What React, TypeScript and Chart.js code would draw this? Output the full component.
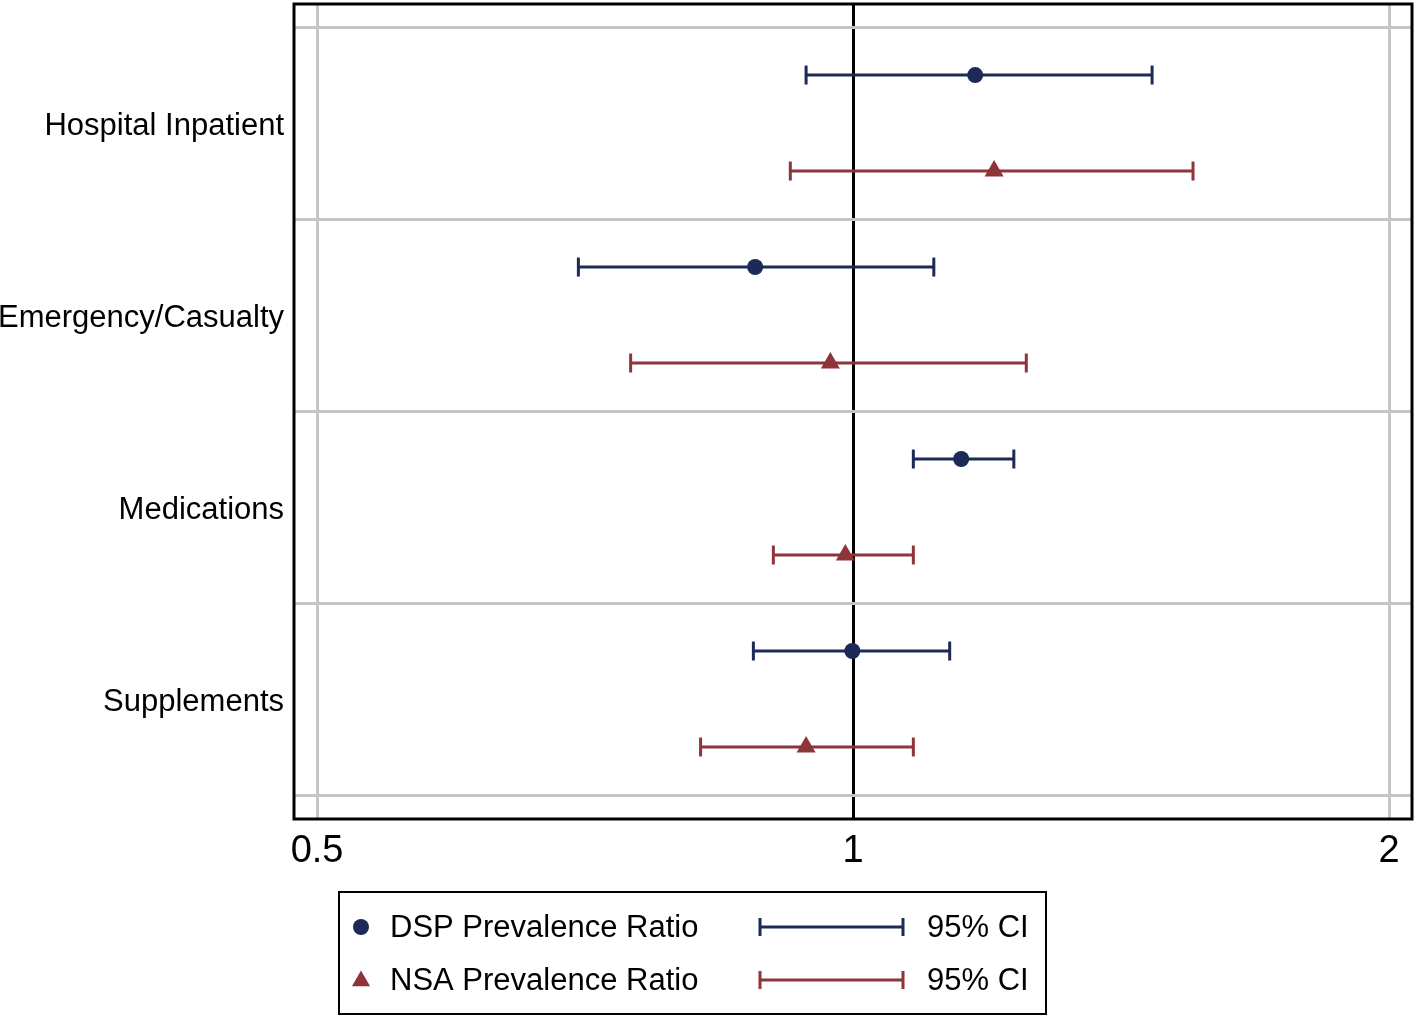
import React, { useEffect, useRef } from "react";
import { Chart, registerables } from "chart.js";

Chart.register(...registerables);

const categories = ["Hospital Inpatient", "Emergency/Casualty", "Medications", "Supplements"];
const dspRatio = [1.171, 0.881, 1.15, 0.999];
const dspLower = [0.941, 0.701, 1.081, 0.879];
const dspUpper = [1.472, 1.11, 1.231, 1.133];
const nsaRatio = [1.2, 0.971, 0.99, 0.941];
const nsaLower = [0.922, 0.75, 0.902, 0.821];
const nsaUpper = [1.552, 1.251, 1.081, 1.081];
const xTicks = [0.5, 1, 2];
const seriesLabels = ["DSP Prevalence Ratio", "NSA Prevalence Ratio"];
const ciLabel = "95% CI";

const NAVY = "#1b2a56";
const RED = "#8e343b";
const GRID = "#c6c6c6";
const FONT = "'Liberation Sans', Arial, sans-serif";

// row positions on the y scale: category i occupies [2i, 2i+2]
const dspY = (i: number) => 2 * i + 0.5;
const nsaY = (i: number) => 2 * i + 1.5;

export default function App() {
  const ref = useRef<HTMLCanvasElement>(null);
  useEffect(() => {
    if (!ref.current) return;
    const ciDatasets: any[] = [];
    categories.forEach((_, i) => {
      ciDatasets.push({
        type: "line",
        data: [
          { x: dspLower[i], y: dspY(i) },
          { x: dspUpper[i], y: dspY(i) },
        ],
        borderColor: NAVY,
        borderWidth: 3,
        pointStyle: "line",
        rotation: 90,
        pointRadius: 9.5,
        pointBorderWidth: 3,
        pointBorderColor: NAVY,
        order: 2,
        clip: false,
      });
      ciDatasets.push({
        type: "line",
        data: [
          { x: nsaLower[i], y: nsaY(i) },
          { x: nsaUpper[i], y: nsaY(i) },
        ],
        borderColor: RED,
        borderWidth: 3,
        pointStyle: "line",
        rotation: 90,
        pointRadius: 9.5,
        pointBorderWidth: 3,
        pointBorderColor: RED,
        order: 2,
        clip: false,
      });
    });

    const framePlugin = {
      id: "frameLegend",
      afterDraw(chart: any) {
        const ctx = chart.ctx;
        const a = chart.chartArea;
        ctx.save();
        ctx.strokeStyle = "#000";
        ctx.lineWidth = 3;
        ctx.strokeRect(a.left, a.top, a.right - a.left, a.bottom - a.top);

        // legend box
        ctx.lineWidth = 2;
        ctx.strokeRect(339, 892, 707, 122);
        const rows = [927, 980];
        const colors = [NAVY, RED];
        ctx.font = `31px ${FONT}`;
        ctx.textBaseline = "middle";
        ctx.textAlign = "left";
        rows.forEach((y, k) => {
          ctx.fillStyle = colors[k];
          ctx.strokeStyle = colors[k];
          if (k === 0) {
            ctx.beginPath();
            ctx.arc(361, y, 8, 0, Math.PI * 2);
            ctx.fill();
          } else {
            const r = 10.5;
            ctx.beginPath();
            ctx.moveTo(361, y - r + 1);
            ctx.lineTo(361 + r * 0.866, y + r / 2 + 1);
            ctx.lineTo(361 - r * 0.866, y + r / 2 + 1);
            ctx.closePath();
            ctx.fill();
          }
          ctx.lineWidth = 3;
          ctx.beginPath();
          ctx.moveTo(760, y);
          ctx.lineTo(903, y);
          ctx.moveTo(760, y - 9);
          ctx.lineTo(760, y + 9);
          ctx.moveTo(903, y - 9);
          ctx.lineTo(903, y + 9);
          ctx.stroke();
          ctx.fillStyle = "#000";
          ctx.fillText(seriesLabels[k], 390, y + 1);
          ctx.fillText(ciLabel, 927, y + 1);
        });
        ctx.restore();
      },
    };

    const chart = new Chart(ref.current, {
      type: "scatter",
      data: {
        datasets: [
          {
            label: seriesLabels[0],
            data: categories.map((_, i) => ({ x: dspRatio[i], y: dspY(i) })),
            backgroundColor: NAVY,
            borderColor: NAVY,
            pointStyle: "circle",
            pointRadius: 8,
            borderWidth: 0,
            order: 0,
            clip: false,
          },
          {
            label: seriesLabels[1],
            data: categories.map((_, i) => ({ x: nsaRatio[i], y: nsaY(i) })),
            backgroundColor: RED,
            borderColor: RED,
            pointStyle: "triangle",
            pointRadius: 11,
            borderWidth: 0,
            order: 0,
            clip: false,
          },
          ...ciDatasets,
        ],
      },
      options: {
        responsive: false,
        animation: false,
        layout: { autoPadding: false, padding: { top: 4, right: 6, left: 0, bottom: 0 } },
        plugins: { legend: { display: false }, tooltip: { enabled: false } },
        scales: {
          x: {
            type: "logarithmic",
            min: 0.4853,
            max: 2.06,
            afterBuildTicks: (s: any) => {
              s.ticks = xTicks.map((v) => ({ value: v }));
            },
            afterFit: (s: any) => {
              s.height = 200;
              s.paddingLeft = 0;
              s.paddingRight = 0;
            },
            grid: {
              drawTicks: false,
              color: (c: any) => (c.tick && c.tick.value === 1 ? "#000" : GRID),
              lineWidth: 3,
            },
            border: { display: false },
            ticks: {
              autoSkip: false,
              maxRotation: 0,
              padding: 10,
              color: "#000",
              font: { family: FONT, size: 38 },
              callback: (v: any) => String(v),
            },
          },
          y: {
            type: "linear",
            reverse: true,
            min: -0.24,
            max: 8.25,
            afterBuildTicks: (s: any) => {
              s.ticks = [0, 1, 2, 3, 4, 5, 6, 7, 8].map((v) => ({ value: v }));
            },
            afterFit: (s: any) => {
              s.width = 294;
              s.paddingTop = 0;
              s.paddingBottom = 0;
            },
            grid: {
              drawTicks: false,
              color: (c: any) => (c.tick && c.tick.value % 2 === 0 ? GRID : "rgba(0,0,0,0)"),
              lineWidth: 3,
            },
            border: { display: false },
            ticks: {
              autoSkip: false,
              padding: 10,
              labelOffset: 3,
              color: "#000",
              font: { family: FONT, size: 31 },
              callback: (v: any) => (v % 2 === 1 ? categories[(v - 1) / 2] : ""),
            },
          },
        },
      },
      plugins: [framePlugin],
    } as any);
    return () => chart.destroy();
  }, []);

  return (
    <div style={{ position: "absolute", left: 0, top: 0, width: 1418, height: 1019, background: "#fff" }}>
      <canvas ref={ref} width={1418} height={1019} style={{ display: "block" }} />
    </div>
  );
}
